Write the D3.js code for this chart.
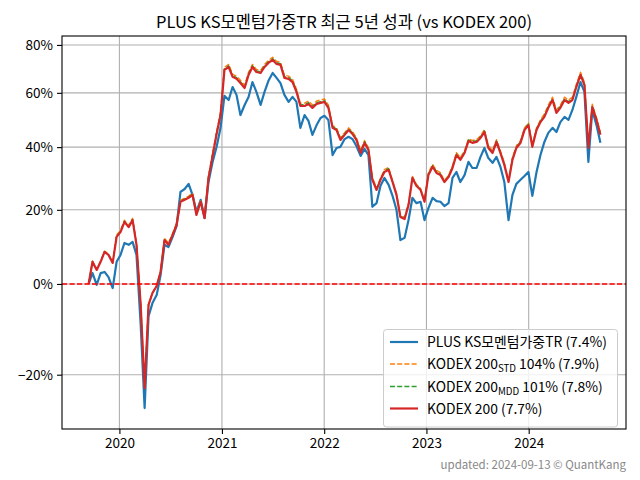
<!DOCTYPE html>
<html><head><meta charset="utf-8">
<script src="https://cdn.jsdelivr.net/npm/d3@7"></script>
<style>
body{margin:0;background:#fff}
svg{display:block}
text{font-family:"Noto Sans CJK KR","Noto Sans",sans-serif}
</style>
</head><body>
<svg id="chart" width="640" height="480"></svg>
<script>
// ---------------- data ----------------
const startDate = "2019-09-13";
const endDate = "2024-09-13";
const titleText = "PLUS KS모멘텀가중TR 최근 5년 성과 (vs KODEX 200)";
const footerText = "updated: 2024-09-13 © QuantKang";

// cumulative return (%) sampled every ~2 weeks from startDate to endDate
const momentumTR = [0,2.7,-0.2,2.7,3.0,1.7,-1.0,5.6,7.4,10.6,10.1,10.9,7.4,-9.6,-26.3,-7.6,-4.6,-2.7,2.2,10.1,
9.5,12.3,15.3,25.4,26.3,27.9,24.5,19.4,23.0,17.6,28.5,34.7,40.1,46.8,58.8,57.2,62.3,59.2,51.5,55.3,
58.4,64.3,60.4,55.3,60.4,64.8,68.0,66.0,63.9,59.2,56.5,58.4,56.5,46.8,51.5,49.3,44.3,47.8,50.4,51.2,
49.7,37.3,39.7,40.1,42.8,43.6,42.8,40.4,37.0,39.4,37.3,20.9,22.0,27.3,29.8,27.6,24.2,20.0,11.4,12.0,
17.0,23.6,22.0,22.4,17.0,20.5,23.6,22.6,22.4,21.1,22.0,29.8,31.7,28.5,30.7,35.0,33.0,33.0,36.7,39.7,
36.3,34.7,36.7,33.4,28.5,17.0,24.5,27.9,29.2,30.4,31.7,24.2,31.7,37.3,41.8,45.0,46.8,45.3,48.9,50.8,
49.7,53.4,58.4,64.3,60.4,35.0,53.4,47.8,41.5];

const kodexStd = [0,5.8,3.7,5.8,8.4,7.6,5.5,12.8,14.1,17.0,15.5,17.5,10.6,-4.9,-22.4,-4.9,-2.1,-0.4,3.2,11.9,
10.6,13.3,16.1,22.9,23.5,24.1,25.0,19.0,22.9,18.1,30.3,37.5,45.4,52.6,70.4,71.6,67.5,66.7,65.0,63.0,
68.3,71.6,69.5,69.1,71.6,73.3,74.6,72.9,72.5,67.1,66.7,65.4,61.5,56.0,56.0,56.8,55.3,56.8,57.2,57.6,
55.3,47.6,46.8,43.3,45.1,46.8,45.4,43.3,38.8,42.3,39.8,30.0,26.5,29.7,32.5,33.2,29.0,25.0,18.4,17.8,
21.9,30.3,27.8,26.5,22.9,31.5,34.2,32.2,31.5,29.0,30.6,33.8,38.1,36.5,38.8,42.9,42.3,42.6,44.0,46.1,
40.5,38.8,42.6,38.8,34.8,29.0,36.5,40.5,42.3,46.8,48.6,40.9,46.8,49.7,51.9,55.3,58.3,53.4,55.3,58.3,
57.2,58.3,63.4,68.3,64.2,40.5,55.6,50.5,45.1];

const kodexMdd = [0,5.7,3.6,5.7,8.3,7.5,5.4,12.5,13.8,16.7,15.2,17.2,10.3,-5.0,-22.5,-5.0,-2.2,-0.5,3.1,11.6,
10.3,13.0,15.8,22.6,23.2,23.8,24.7,18.7,22.6,17.8,30.0,37.1,45.0,52.0,69.8,71.0,66.9,66.1,64.4,62.4,
67.7,71.0,68.9,68.5,71.0,72.7,74.0,72.3,71.9,66.5,66.1,64.8,60.9,55.4,55.4,56.2,54.7,56.2,56.6,57.0,
54.7,47.2,46.4,42.9,44.7,46.4,45.0,42.9,38.4,41.9,39.4,29.6,26.2,29.4,32.1,32.8,28.7,24.7,18.1,17.5,
21.6,30.0,27.5,26.2,22.6,31.1,33.8,31.8,31.1,28.7,30.3,33.4,37.7,36.1,38.4,42.5,41.9,42.2,43.6,45.7,
40.1,38.4,42.2,38.4,34.4,28.7,36.1,40.1,41.9,46.4,48.2,40.5,46.4,49.3,51.3,54.7,57.7,52.8,54.7,57.7,
56.6,57.7,62.8,67.7,63.6,40.1,55.0,50.1,44.7];

const kodex200 = [0,5.6,3.5,5.6,8.2,7.4,5.3,12.3,13.6,16.5,15.0,17.0,10.1,-5.0,-22.6,-5.0,-2.2,-0.5,3.0,11.4,
10.1,12.8,15.6,22.4,23.0,23.6,24.5,18.5,22.4,17.6,29.8,36.7,44.6,51.5,69.3,70.5,66.4,65.6,63.9,61.9,
67.2,70.5,68.4,68.0,70.5,72.2,73.5,71.8,71.4,66.0,65.6,64.3,60.4,54.9,54.9,55.7,54.2,55.7,56.1,56.5,
54.2,46.8,46.0,42.5,44.3,46.0,44.6,42.5,38.0,41.5,39.0,29.2,26.0,29.2,31.7,32.4,28.5,24.5,17.9,17.3,
21.4,29.8,27.3,26.0,22.4,30.7,33.4,31.4,30.7,28.5,30.1,33.0,37.3,35.7,38.0,42.1,41.5,41.8,43.2,45.3,
39.7,38.0,41.8,38.0,34.0,28.5,35.7,39.7,41.5,46.0,47.8,40.1,46.0,48.9,50.8,54.2,57.2,52.3,54.2,57.2,
56.1,57.2,62.3,67.2,63.1,39.7,54.5,49.7,44.3];

const yTickValues = [-20, 0, 20, 40, 60, 80];
const xTickYears = [2020, 2021, 2022, 2023, 2024];
const yDomainPct = [-30.0, 84.0];

const legendItems = [
  {name: "PLUS KS모멘텀가중TR", sub: "", rest: " (7.4%)"},
  {name: "KODEX 200", sub: "STD", rest: " 104% (7.9%)"},
  {name: "KODEX 200", sub: "MDD", rest: " 101% (7.8%)"},
  {name: "KODEX 200", sub: "", rest: " (7.7%)"}
];

// ---------------- drawing ----------------
const L = 62, T = 36, R = 626, B = 429;
const svg = d3.select("#chart");

const parse = d3.timeParse("%Y-%m-%d");
const d0 = parse(startDate), d1 = parse(endDate);
const nPts = kodex200.length;
const spanDays = d3.timeDay.count(d0, d1);
const dates = d3.range(nPts).map(i => d3.timeDay.offset(d0, Math.round(i * spanDays / (nPts - 1))));

const padMs = (d1 - d0) * 0.05;
const x = d3.scaleTime().domain([new Date(+d0 - padMs), new Date(+d1 + padMs)]).range([L + 1, R]);
const y = d3.scaleLog().domain(yDomainPct.map(v => 1 + v / 100)).range([B, T]);
const yp = v => y(1 + v / 100);

// grid
const grid = svg.append("g").attr("stroke", "#b0b0b0").attr("stroke-width", 1.1);
xTickYears.forEach(yr => {
  const px = x(new Date(yr, 0, 1));
  grid.append("line").attr("x1", px).attr("x2", px).attr("y1", T).attr("y2", B);
});
yTickValues.forEach(v => {
  grid.append("line").attr("x1", L).attr("x2", R).attr("y1", yp(v)).attr("y2", yp(v));
});

// series
const series = [
  {vals: momentumTR, color: "#1f77b4", width: 2.2, dash: null},
  {vals: kodexStd, color: "#ff7f0e", width: 1.4, dash: "5,2.2"},
  {vals: kodexMdd, color: "#2ca02c", width: 1.4, dash: "5,2.2"},
  {vals: kodex200, color: "#d62728", width: 2.2, dash: null}
];
const line = d3.line().x(d => x(d.date)).y(d => yp(d.v));
series.forEach(s => {
  const pts = s.vals.map((v, i) => ({date: dates[i], v}));
  const p = svg.append("path").datum(pts).attr("d", line)
    .attr("fill", "none").attr("stroke", s.color).attr("stroke-width", s.width)
    .attr("stroke-linejoin", "round");
  if (s.dash) p.attr("stroke-dasharray", s.dash);
});

// zero line
svg.append("line").attr("x1", L).attr("x2", R).attr("y1", yp(0)).attr("y2", yp(0))
  .attr("stroke", "#ff0000").attr("stroke-width", 1.4).attr("stroke-dasharray", "5.2,2.3");

// frame
svg.append("rect").attr("x", L).attr("y", T).attr("width", R - L).attr("height", B - T)
  .attr("fill", "none").attr("stroke", "#000").attr("stroke-width", 1.1);

// y ticks
const yAxis = d3.axisLeft(y).tickValues(yTickValues.map(v => 1 + v / 100))
  .tickFormat(v => { const p = Math.round((v - 1) * 100); return (p < 0 ? "\u2212" + (-p) : p) + "%"; })
  .tickSize(5).tickPadding(4);
const ga = svg.append("g").attr("transform", `translate(${L},0)`).call(yAxis);
ga.select(".domain").remove();
ga.selectAll("text").attr("font-size", 13.5).attr("fill", "#000")
  .attr("font-family", '"Noto Sans CJK KR","Noto Sans",sans-serif');
ga.selectAll("line").attr("stroke", "#000").attr("stroke-width", 1.1);

// x ticks
const xAxis = d3.axisBottom(x).tickValues(xTickYears.map(yr => new Date(yr, 0, 1)))
  .tickFormat(d3.timeFormat("%Y")).tickSize(5).tickPadding(4);
const gx = svg.append("g").attr("transform", `translate(0,${B})`).call(xAxis);
gx.select(".domain").remove();
gx.selectAll("text").attr("font-size", 13.5).attr("fill", "#000")
  .attr("font-family", '"Noto Sans CJK KR","Noto Sans",sans-serif');
gx.selectAll("line").attr("stroke", "#000").attr("stroke-width", 1.1);

// title
svg.append("text").attr("x", (L + R) / 2).attr("y", 28).attr("text-anchor", "middle")
  .attr("font-size", 16.5).attr("fill", "#000").text(titleText);

// legend
const lg = svg.append("g");
lg.append("rect").attr("x", 383.5).attr("y", 329.5).attr("width", 234).attr("height", 97.5)
  .attr("rx", 3).attr("fill", "#fff").attr("fill-opacity", 0.8)
  .attr("stroke", "#cccccc").attr("stroke-width", 1);
const rowY = [342, 364, 386.5, 408.5];
legendItems.forEach((it, i) => {
  const s = series[i];
  const hl = lg.append("line").attr("x1", 390).attr("x2", 418).attr("y1", rowY[i]).attr("y2", rowY[i])
    .attr("stroke", s.color).attr("stroke-width", s.width);
  if (s.dash) hl.attr("stroke-dasharray", s.dash);
  const t = lg.append("text").attr("x", 427).attr("y", rowY[i] + 5).attr("font-size", 13.9).attr("fill", "#000");
  t.append("tspan").text(it.name);
  if (it.sub) {
    t.append("tspan").attr("font-size", 9.7).attr("dy", 3).text(it.sub);
    t.append("tspan").attr("dy", -3).text(it.rest);
  } else {
    t.append("tspan").text(it.rest);
  }
});

// footer
svg.append("text").attr("x", R).attr("y", 469).attr("text-anchor", "end")
  .attr("font-size", 11.5).attr("fill", "#888888").text(footerText);
</script>
</body></html>
